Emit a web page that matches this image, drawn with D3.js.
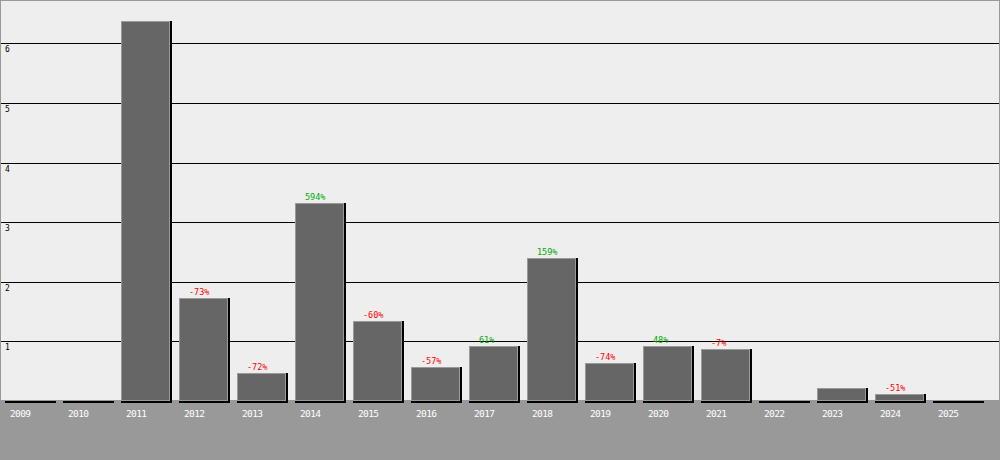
<!DOCTYPE html>
<html>
<head>
<meta charset="utf-8">
<script src="https://cdn.jsdelivr.net/npm/d3@7"></script>
<style>
html,body{margin:0;padding:0;background:#999;}
svg{display:block;}
text{font-family:"DejaVu Sans Mono","Liberation Mono",monospace;}
</style>
</head>
<body>
<svg id="chart" width="1000" height="460"></svg>
<script>
const years = ["2009","2010","2011","2012","2013","2014","2015","2016","2017","2018","2019","2020","2021","2022","2023","2024","2025"];
const values = [0, 0, 6.38, 1.725, 0.478, 3.316, 1.34, 0.575, 0.925, 2.40, 0.63, 0.93, 0.865, 0, 0.225, 0.11, 0];
const yTicks = [1, 2, 3, 4, 5, 6];

const W = 1000, H = 460;
const base = 401;
const svg = d3.select("#chart");

svg.append("rect").attr("x",0).attr("y",0).attr("width",W).attr("height",H).attr("fill","#999");
svg.append("rect").attr("x",1).attr("y",1).attr("width",W-2).attr("height",399).attr("fill","#eee");

const x = d3.scaleBand().domain(years).range([5, 5 + 58*17 - 9]).paddingInner(9/58).paddingOuter(0);
const y = d3.scaleLinear().domain([0, 6]).range([base, 43.4]);

// gridlines
svg.append("g").selectAll("line").data(yTicks).join("line")
  .attr("x1", 1).attr("x2", W-1)
  .attr("y1", d => Math.round(y(d)) + 0.5).attr("y2", d => Math.round(y(d)) + 0.5)
  .attr("stroke", "#000").attr("stroke-width", 1);

svg.append("g").selectAll("text").data(yTicks).join("text")
  .attr("x", 5).attr("y", d => Math.round(y(d)) + 9)
  .attr("font-size", 8).attr("fill", "#000")
  .text(d => d);

const data = years.map((yr, i) => ({yr, v: values[i], prev: i > 0 ? values[i-1] : 0}));

const bars = svg.append("g");
// shadows
bars.selectAll("rect.sh").data(data).join("rect").attr("class","sh")
  .attr("x", d => Math.round(x(d.yr)))
  .attr("y", d => Math.round(y(d.v)))
  .attr("width", 51)
  .attr("height", d => base - Math.round(y(d.v)) + 2)
  .attr("fill", "#000");
// bars
bars.selectAll("rect.b").data(data.filter(d => d.v > 0)).join("rect").attr("class","b")
  .attr("x", d => Math.round(x(d.yr)) + 0.5)
  .attr("y", d => Math.round(y(d.v)) + 0.5)
  .attr("width", 48)
  .attr("height", d => Math.max(0, base - Math.round(y(d.v)) - 1))
  .attr("fill", "#666").attr("stroke", "#999").attr("stroke-width", 1);

// percent labels
svg.append("g").selectAll("text").data(data.filter(d => d.v > 0 && d.prev > 0)).join("text")
  .attr("x", d => Math.round(x(d.yr)) + 10)
  .attr("y", d => Math.round(y(d.v)) - 3)
  .attr("font-size", 8.5)
  .attr("fill", d => d.v >= d.prev ? "#00aa00" : "#ff0000")
  .text(d => Math.round((d.v / d.prev - 1) * 100) + "%");

// year labels
svg.append("g").selectAll("text").data(years).join("text")
  .attr("x", d => Math.round(x(d)) + 5)
  .attr("y", 417)
  .attr("font-size", 9.5)
  .attr("letter-spacing", -0.6)
  .attr("fill", "#fff")
  .text(d => d);
</script>
</body>
</html>
